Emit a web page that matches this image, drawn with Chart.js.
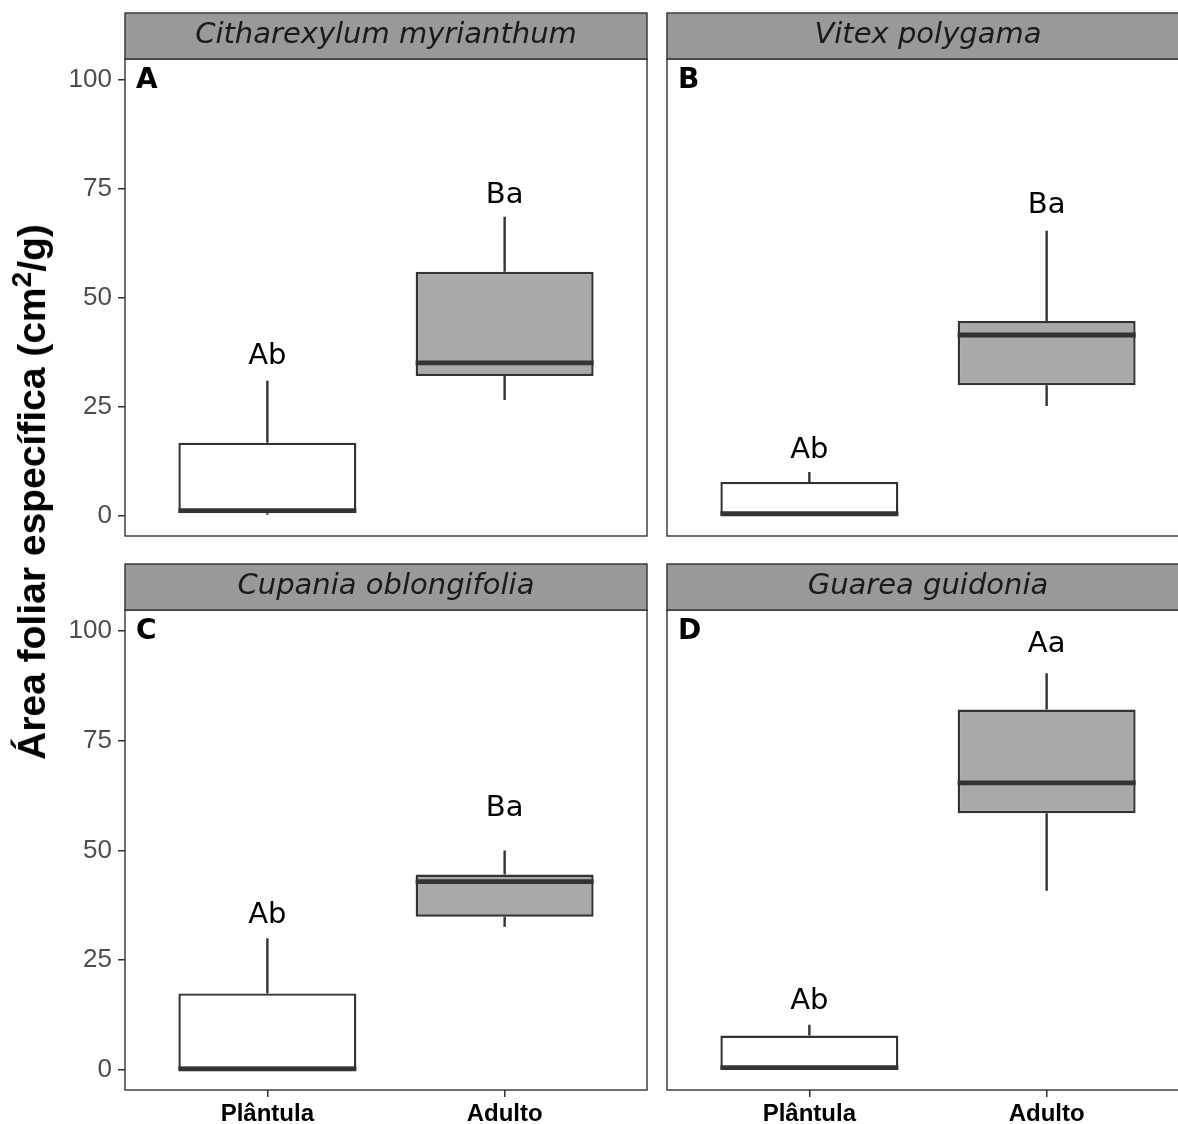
<!DOCTYPE html>
<html>
<head>
<meta charset="utf-8">
<script src="https://cdn.jsdelivr.net/npm/chart.js@4"></script>
<style>
  body { margin: 0; width: 1178px; height: 1124px; overflow: hidden; background: #fff; position: relative; }
  canvas { position: absolute; }
  #titulo {
    position: absolute; left: 32px; top: 492px; white-space: nowrap;
    transform: translate(-50%, -50%) rotate(-90deg);
    font: bold 39px "Liberation Sans", Arial, sans-serif; color: #000;
  }
  #titulo sup { font-size: 28px; line-height: 0; }
</style>
</head>
<body>
<canvas id="pA" width="660" height="560" style="left:0px;top:0px"></canvas>
<canvas id="pB" width="660" height="560" style="left:542px;top:0px"></canvas>
<canvas id="pC" width="660" height="573" style="left:0px;top:551px"></canvas>
<canvas id="pD" width="660" height="573" style="left:542px;top:551px"></canvas>
<div id="titulo">Área foliar específica (cm<sup>2</sup>/g)</div>
<script>
// dados (um valor por grupo: Plântula, Adulto)
const grupos = ['Plântula', 'Adulto'];
const especies = ['Citharexylum myrianthum', 'Vitex polygama', 'Cupania oblongifolia', 'Guarea guidonia'];
const paineis = ['A', 'B', 'C', 'D'];
const minimo  = [[0.3, 26.6], [0.0, 25.2], [0.0, 32.6], [0.0, 40.8]];
const q1      = [[0.6, 32.1], [0.2, 30.0], [0.2, 34.9], [0.2, 58.5]];
const mediana = [[1.2, 35.1], [0.5, 41.5], [0.2, 42.9], [0.5, 65.4]];
const q3      = [[16.8, 56.0], [7.8, 44.7], [17.4, 44.5], [7.8, 82.1]];
const maximo  = [[31.0, 68.6], [10.1, 65.4], [30.0, 50.0], [10.3, 90.4]];
const letras  = [['Ab', 'Ba'], ['Ab', 'Ba'], ['Ab', 'Ba'], ['Ab', 'Aa']];
const posLetra = [[36.5, 73.4], [15.1, 71.3], [35.1, 59.6], [15.6, 97.0]];
const yTicks = [0, 25, 50, 75, 100];

const corLinha = '#333333';
const preenchimento = ['#ffffff', '#a9a9a9'];

// bigodes, medianas, moldura, faixa e letras
const caixas = {
  id: 'caixas',
  beforeDatasetsDraw(chart) {
    const p = chart.options.plugins.caixas.p;
    const x = chart.scales.x, y = chart.scales.y;
    const ctx = chart.ctx;
    ctx.save();
    ctx.strokeStyle = corLinha;
    ctx.lineWidth = 2.4;
    grupos.forEach((g, i) => {
      const px = x.getPixelForValue(i + 1);
      ctx.beginPath();
      ctx.moveTo(px, y.getPixelForValue(q3[p][i]));
      ctx.lineTo(px, y.getPixelForValue(maximo[p][i]));
      ctx.moveTo(px, y.getPixelForValue(q1[p][i]));
      ctx.lineTo(px, y.getPixelForValue(minimo[p][i]));
      ctx.stroke();
    });
    ctx.restore();
  },
  afterDatasetsDraw(chart) {
    const p = chart.options.plugins.caixas.p;
    const x = chart.scales.x, y = chart.scales.y;
    const a = chart.chartArea;
    const ctx = chart.ctx;
    ctx.save();
    // medianas
    const meta = chart.getDatasetMeta(0);
    ctx.strokeStyle = corLinha;
    ctx.lineWidth = 4.8;
    meta.data.forEach((bar, i) => {
      const py = y.getPixelForValue(mediana[p][i]);
      ctx.beginPath();
      ctx.moveTo(bar.x - bar.width / 2, py);
      ctx.lineTo(bar.x + bar.width / 2, py);
      ctx.stroke();
    });
    // letras de significância
    ctx.fillStyle = '#000';
    ctx.font = '29px "DejaVu Sans"';
    ctx.textAlign = 'center';
    ctx.textBaseline = 'middle';
    grupos.forEach((g, i) => {
      ctx.fillText(letras[p][i], x.getPixelForValue(i + 1), y.getPixelForValue(posLetra[p][i]));
    });
    // moldura do painel
    ctx.lineWidth = 1.4;
    ctx.strokeStyle = corLinha;
    ctx.strokeRect(a.left, a.top, a.right - a.left, a.bottom - a.top);
    // faixa com o nome da espécie
    ctx.fillStyle = '#999999';
    ctx.fillRect(a.left, a.top - 46, a.right - a.left, 46);
    ctx.strokeRect(a.left, a.top - 46, a.right - a.left, 46);
    ctx.fillStyle = '#1a1a1a';
    ctx.font = 'italic 29px "DejaVu Sans"';
    ctx.fillText(especies[p], (a.left + a.right) / 2, a.top - 24);
    // letra do painel
    ctx.fillStyle = '#000';
    ctx.font = 'bold 28px "DejaVu Sans"';
    ctx.textAlign = 'left';
    ctx.fillText(paineis[p], a.left + 11, a.top + 22);
    ctx.restore();
  }
};

function criaPainel(id, p) {
  const esquerda = p % 2 === 0;
  const baixo = p >= 2;
  new Chart(document.getElementById(id), {
    type: 'bar',
    data: {
      datasets: [{
        data: grupos.map((g, i) => ({ x: i + 1, y: [q1[p][i], q3[p][i]] })),
        backgroundColor: preenchimento,
        borderColor: corLinha,
        borderWidth: 2.4,
        borderSkipped: false,
        categoryPercentage: 1,
        barPercentage: 0.75
      }]
    },
    options: {
      responsive: false,
      animation: false,
      events: [],
      layout: { padding: { top: 59, right: 13, bottom: baixo ? 0 : 24, left: 0 } },
      plugins: { legend: { display: false }, tooltip: { enabled: false }, caixas: { p: p } },
      scales: {
        x: {
          type: 'linear', min: 0.4, max: 2.6, offset: false,
          display: baixo,
          afterBuildTicks: s => { s.ticks = grupos.map((g, i) => ({ value: i + 1 })); },
          afterFit: s => { s.height = baixo ? 34 : 0; },
          ticks: {
            callback: v => grupos[v - 1],
            color: '#000', padding: 3, maxRotation: 0, autoSkip: false,
            font: { family: '"Liberation Sans", Arial', size: 24, weight: 'bold' }
          },
          grid: { offset: false, drawOnChartArea: false, tickLength: 7, color: corLinha, lineWidth: 1.5 },
          border: { display: false }
        },
        y: {
          type: 'linear', min: -4.6, max: 104.8,
          display: esquerda,
          afterBuildTicks: s => { s.ticks = yTicks.map(v => ({ value: v })); },
          afterFit: s => { s.width = 125; },
          ticks: {
            color: '#4d4d4d', padding: 6,
            font: { family: '"Liberation Sans", Arial', size: 26 }
          },
          grid: { drawOnChartArea: false, tickLength: 7, color: corLinha, lineWidth: 1.5 },
          border: { display: false }
        }
      }
    },
    plugins: [caixas]
  });
}

criaPainel('pA', 0);
criaPainel('pB', 1);
criaPainel('pC', 2);
criaPainel('pD', 3);
</script>
</body>
</html>
